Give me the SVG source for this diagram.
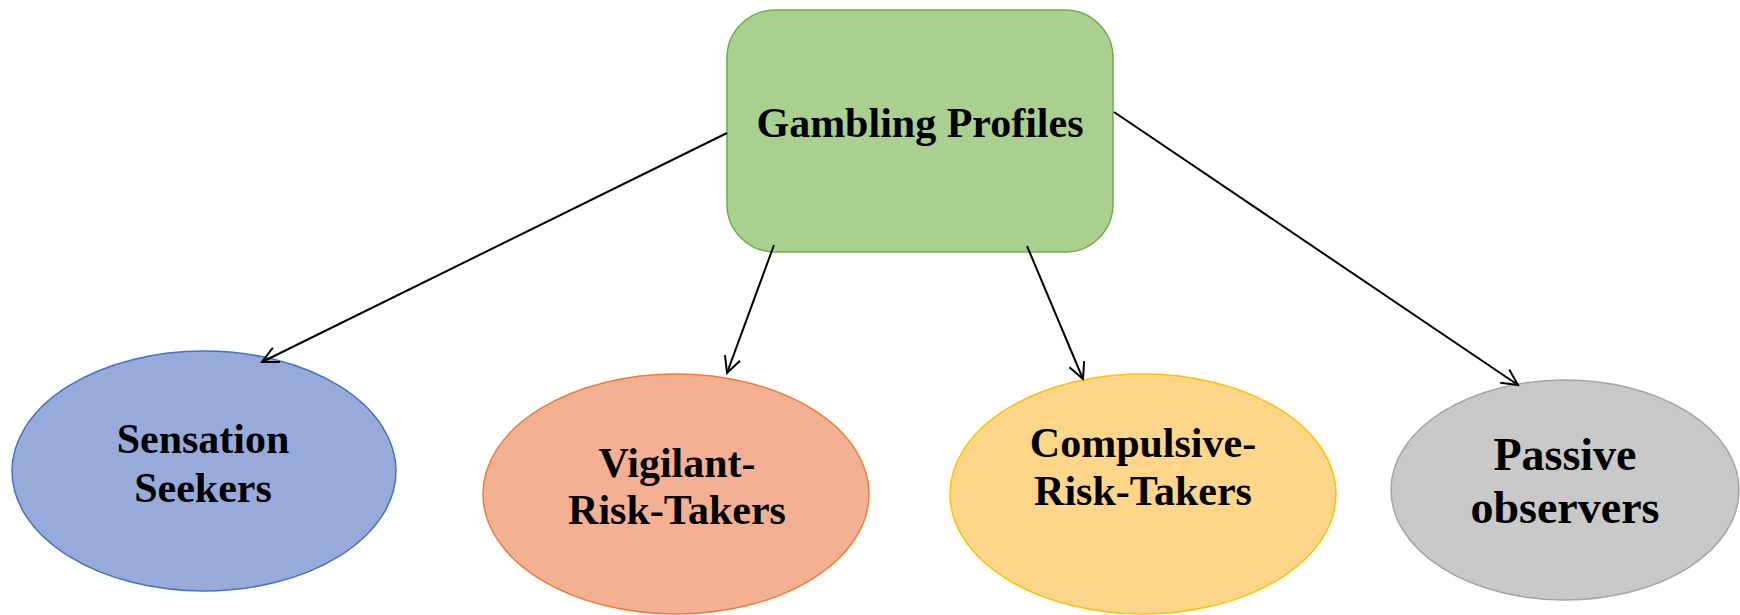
<svg xmlns="http://www.w3.org/2000/svg" width="1740" height="615" viewBox="0 0 1740 615">
<style>
  .lbl { font-family: "Liberation Serif", "Times New Roman", serif; font-weight: bold; fill: #000; text-anchor: middle; }
  .s41 { font-size: 42px; }
  .s45 { font-size: 46px; }
  .conn { stroke: #000; stroke-width: 2; fill: none; marker-end: url(#arr); }
</style>
<defs>
  <marker id="arr" markerUnits="userSpaceOnUse" markerWidth="20" markerHeight="20" viewBox="-2 -2 20 20" refX="16" refY="8" orient="auto">
    <path d="M0,0 L16,8 L0,16" fill="none" stroke="#000" stroke-width="2"/>
  </marker>
</defs>
<rect width="1740" height="615" fill="#fff"/>
<g id="root">
  <rect x="727" y="10" width="386" height="242" rx="48" ry="48" fill="#A9D08E" stroke="#70AD47" stroke-width="1.5"/>
  <text class="lbl s41" x="920" y="137">Gambling Profiles</text>
</g>
<g id="sensation">
  <ellipse cx="204" cy="471" rx="192" ry="120" fill="#97AAD9" stroke="#4472C4" stroke-width="1.5"/>
  <text class="lbl s41" x="203" y="453">Sensation</text>
  <text class="lbl s41" x="203" y="502">Seekers</text>
</g>
<g id="vigilant">
  <ellipse cx="676" cy="494" rx="193" ry="120" fill="#F4B093" stroke="#ED7D31" stroke-width="1.5"/>
  <text class="lbl s41" x="677" y="477">Vigilant-</text>
  <text class="lbl s41" x="677" y="524">Risk-Takers</text>
</g>
<g id="compulsive">
  <ellipse cx="1143" cy="494" rx="193" ry="120" fill="#FED68A" stroke="#FFC000" stroke-width="1.5"/>
  <text class="lbl s41" x="1143" y="457">Compulsive-</text>
  <text class="lbl s41" x="1143" y="505">Risk-Takers</text>
</g>
<g id="passive">
  <ellipse cx="1565" cy="490" rx="174" ry="110" fill="#C9C9C9" stroke="#A5A5A5" stroke-width="1.5"/>
  <text class="lbl s45" x="1565" y="470">Passive</text>
  <text class="lbl s45" x="1565" y="523">observers</text>
</g>
<g id="connectors">
  <line class="conn" x1="727" y1="133" x2="262" y2="362"/>
  <line class="conn" x1="774" y1="245" x2="727" y2="373"/>
  <line class="conn" x1="1027" y1="246" x2="1083" y2="379"/>
  <line class="conn" x1="1114" y1="112" x2="1518" y2="385"/>
</g>
</svg>
